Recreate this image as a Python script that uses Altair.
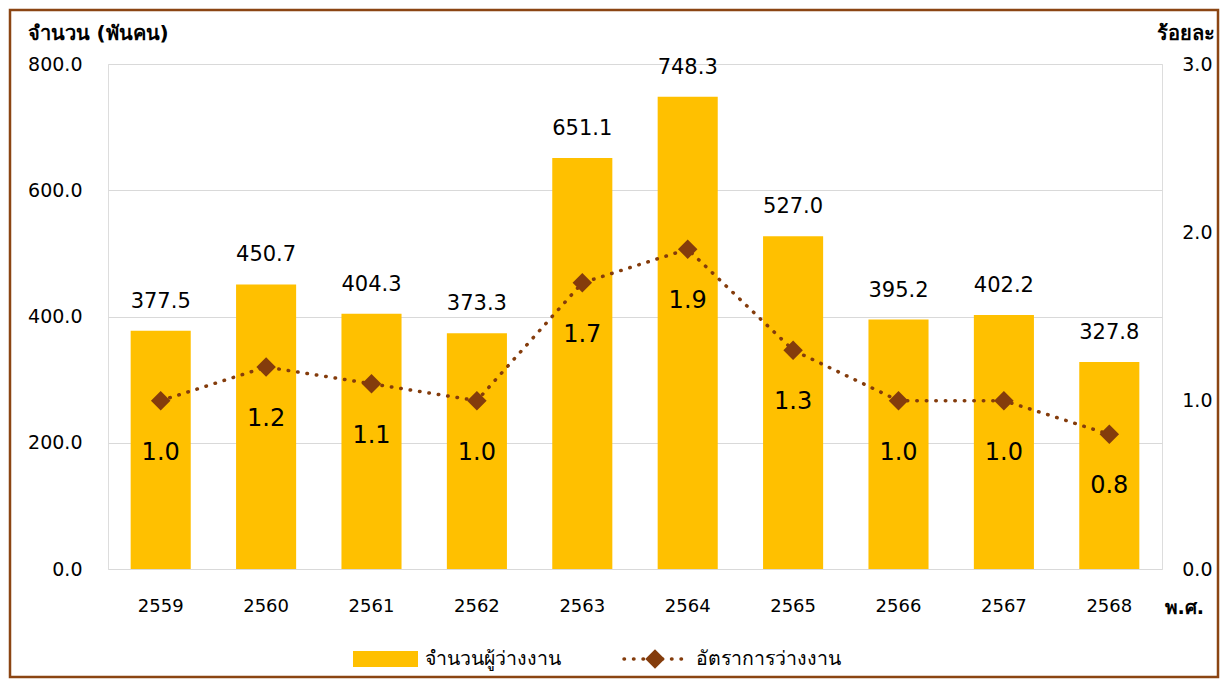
import altair as alt
import pandas as pd

years = ["2559", "2560", "2561", "2562", "2563", "2564", "2565", "2566", "2567", "2568"]
unemployed = [377.5, 450.7, 404.3, 373.3, 651.1, 748.3, 527.0, 395.2, 402.2, 327.8]
rate = [1.0, 1.2, 1.1, 1.0, 1.7, 1.9, 1.3, 1.0, 1.0, 0.8]

df = pd.DataFrame({"year": years, "unemployed": unemployed, "rate": rate})

FONT = "Tahoma, DejaVu Sans, Noto Sans"
W, H = 1054, 505
BAR = "#FFC000"
LINE = "#843C0C"

x = alt.X("year:N", sort=years,
          scale=alt.Scale(paddingInner=0.43, paddingOuter=0.215),
          axis=alt.Axis(title="พ.ศ.", labelAngle=0, labelFontSize=18, labelPadding=28,
                        labelColor="#000", domain=False, ticks=False, grid=False,
                        titleAngle=0, titleX=W + 2, titleY=38, titleAlign="left",
                        titleBaseline="middle", titleFontSize=19, titleFontWeight="bold",
                        titleColor="#000"))

yl = alt.Y("unemployed:Q",
           scale=alt.Scale(domain=[0, 800], nice=False),
           axis=alt.Axis(title="จำนวน (พันคน)", values=[0, 200, 400, 600, 800], format=".1f",
                         labelFontSize=19, labelColor="#000", labelPadding=26,
                         domain=False, ticks=False, grid=True, gridColor="#D9D9D9",
                         titleAngle=0, titleX=-81, titleY=-31, titleAlign="left",
                         titleBaseline="middle", titleFontSize=20, titleFontWeight="bold",
                         titleColor="#000"))

bars = alt.Chart(df).mark_bar(color=BAR).encode(x=x, y=yl)
bar_text = alt.Chart(df).mark_text(baseline="bottom", dy=-19, fontSize=21, font=FONT, color="#000").encode(
    x=alt.X("year:N", sort=years), y=alt.Y("unemployed:Q"), text=alt.Text("unemployed:Q", format=".1f"))

yr = alt.Y("rate:Q",
           scale=alt.Scale(domain=[0, 3], nice=False),
           axis=alt.Axis(title="ร้อยละ", orient="right", values=[0, 1, 2, 3], format=".1f",
                         labelFontSize=19, labelColor="#000", labelPadding=50, labelAlign="right",
                         domain=False, ticks=False, grid=False,
                         titleAngle=0, titleX=52, titleY=-31, titleAlign="right",
                         titleBaseline="middle", titleFontSize=20, titleFontWeight="bold",
                         titleColor="#000"))

line = alt.Chart(df).mark_line(color=LINE, strokeWidth=3.5, strokeDash=[0.5, 9], strokeCap="round").encode(
    x=alt.X("year:N", sort=years), y=yr)
pts = alt.Chart(df).mark_point(shape="diamond", filled=True, size=380, color=LINE, opacity=1).encode(
    x=alt.X("year:N", sort=years), y=alt.Y("rate:Q"))
rate_text = alt.Chart(df).mark_text(baseline="middle", dy=52, fontSize=24, font=FONT, color="#000").encode(
    x=alt.X("year:N", sort=years), y=alt.Y("rate:Q"), text=alt.Text("rate:Q", format=".1f"))

left = alt.layer(bars, bar_text)
right = alt.layer(line, pts, rate_text)

# legend and frame
leg_df = pd.DataFrame({"k": [0]})
leg_rect = alt.Chart(leg_df).mark_rect(color=BAR).encode(
    x=alt.value(245), x2=alt.value(310), y=alt.value(587), y2=alt.value(603))
leg_t1 = alt.Chart(leg_df).mark_text(text="จำนวนผู้ว่างงาน", align="left", baseline="middle",
                                     fontSize=19.5, font=FONT, color="#000").encode(
    x=alt.value(317), y=alt.value(595))
leg_line = alt.Chart(leg_df).mark_rule(color=LINE, strokeWidth=3.5, strokeDash=[0.5, 9], strokeCap="round").encode(
    x=alt.value(516), x2=alt.value(575), y=alt.value(595))
leg_pt = alt.Chart(leg_df).mark_point(shape="diamond", filled=True, size=380, color=LINE, opacity=1).encode(
    x=alt.value(547), y=alt.value(595))
leg_t2 = alt.Chart(leg_df).mark_text(text="อัตราการว่างงาน", align="left", baseline="middle",
                                     fontSize=19.5, font=FONT, color="#000").encode(
    x=alt.value(588), y=alt.value(595))
border = alt.Chart(leg_df).mark_rect(fill=None, stroke="#8B4513", strokeWidth=2.5).encode(
    x=alt.value(-98), x2=alt.value(W + 56), y=alt.value(-54), y2=alt.value(H + 108))

legend = alt.layer(leg_rect, leg_t1, leg_line, leg_pt, leg_t2, border)

chart = alt.layer(left, right, legend).resolve_scale(y="independent").properties(
    width=W, height=H,
    autosize=alt.AutoSizeParams(type="none"),
    padding={"left": 100, "top": 56, "right": 59, "bottom": 110},
).configure_view(stroke=None).configure(font=FONT)

chart.save("out.html", embed_options={"renderer": "svg", "actions": False})
